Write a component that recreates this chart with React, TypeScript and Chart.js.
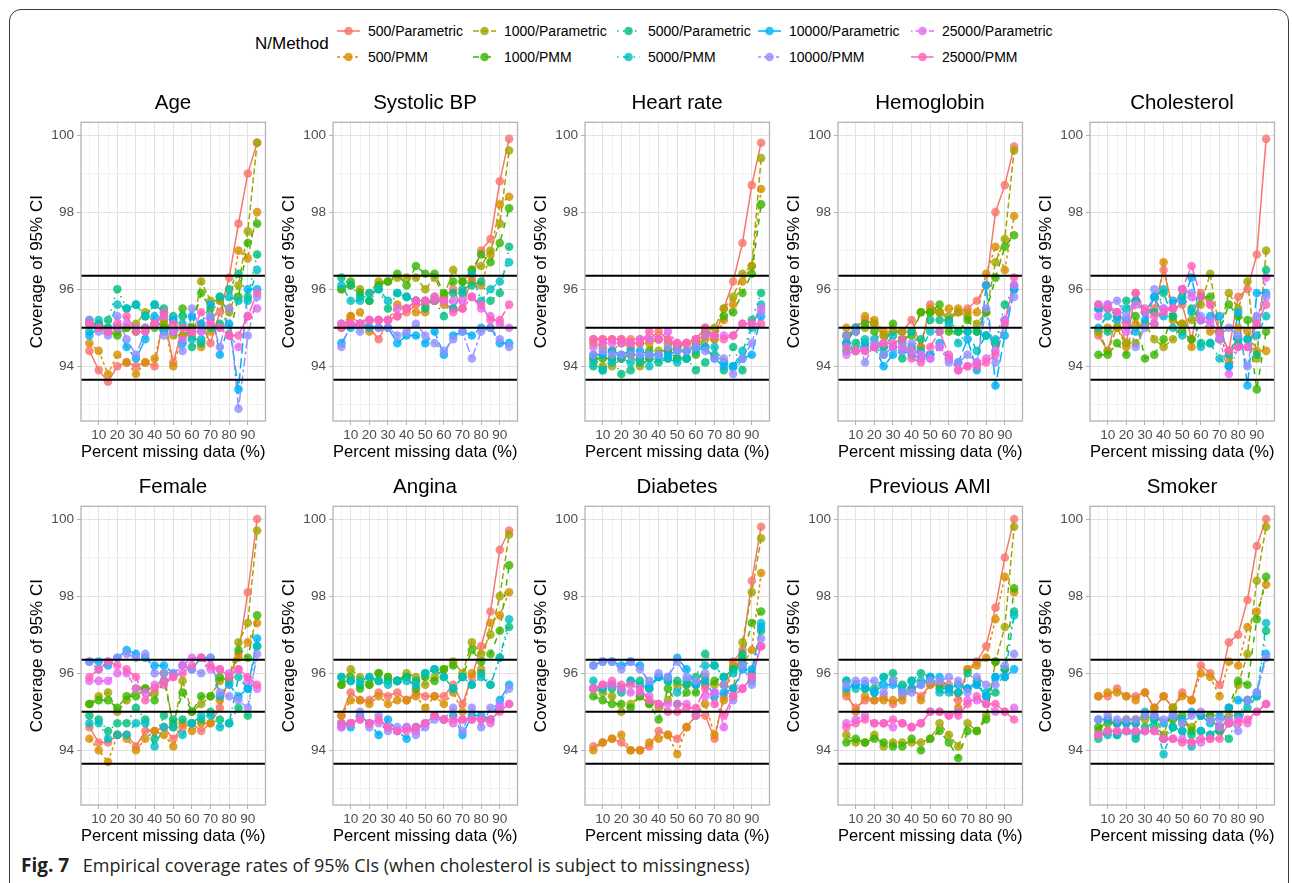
import React, { useEffect, useRef } from 'react';
import { Chart, registerables } from 'chart.js';

Chart.register(...registerables);

// ---------- data ----------
const PERCENT_MISSING = [5, 10, 15, 20, 25, 30, 35, 40, 45, 50, 55, 60, 65, 70, 75, 80, 85, 90, 95];

const SERIES_NAMES = [
  '500/Parametric', '500/PMM', '1000/Parametric', '1000/PMM', '5000/Parametric',
  '5000/PMM', '10000/Parametric', '10000/PMM', '25000/Parametric', '25000/PMM',
];

const X_MAJOR_TICKS = [10, 20, 30, 40, 50, 60, 70, 80, 90];
const X_GRID_TICKS = [5, 10, 15, 20, 25, 30, 35, 40, 45, 50, 55, 60, 65, 70, 75, 80, 85, 90, 95];
const Y_MAJOR_TICKS = [94, 96, 98, 100];
const Y_GRID_TICKS = [93, 94, 95, 96, 97, 98, 99, 100];
const REF_LINES = [93.65, 95, 96.35];

// each panel: rows in SERIES_NAMES order, values at PERCENT_MISSING
const AGE = [
  [94.4, 93.9, 93.6, 94.0, 94.1, 94.0, 94.1, 94.0, 95.3, 94.1, 95.0, 95.0, 95.1, 94.6, 95.4, 96.3, 97.7, 99.0, 99.8],
  [94.6, 94.4, 93.8, 94.3, 94.1, 93.8, 94.1, 94.2, 95.2, 94.0, 94.8, 94.8, 94.5, 94.9, 95.7, 95.5, 97.0, 96.8, 98.0],
  [95.1, 95.1, 95.0, 94.9, 95.0, 95.1, 95.4, 95.1, 95.1, 94.8, 94.8, 94.9, 96.2, 95.7, 95.7, 95.4, 96.1, 97.5, 99.8],
  [95.1, 95.0, 94.9, 94.8, 95.0, 94.9, 95.0, 95.0, 95.0, 94.9, 95.5, 95.0, 95.9, 95.5, 95.8, 94.8, 95.8, 97.2, 97.7],
  [95.2, 95.1, 95.2, 96.0, 95.5, 95.6, 95.3, 95.6, 95.5, 95.3, 95.3, 94.5, 94.6, 95.0, 95.1, 96.0, 96.4, 95.8, 96.9],
  [94.9, 95.2, 95.0, 95.6, 95.5, 95.6, 95.3, 95.6, 95.4, 95.2, 95.1, 94.7, 94.7, 95.3, 95.8, 95.8, 95.7, 95.7, 96.5],
  [94.8, 95.0, 94.9, 95.0, 94.5, 94.2, 94.7, 95.3, 94.9, 95.2, 94.6, 95.3, 95.1, 95.6, 94.3, 95.1, 93.4, 96.0, 96.0],
  [95.2, 94.9, 94.8, 95.3, 94.7, 94.3, 94.9, 95.1, 94.8, 94.9, 94.4, 95.5, 94.9, 95.3, 94.5, 95.5, 92.9, 94.8, 95.8],
  [95.1, 95.0, 94.9, 95.0, 95.1, 95.0, 95.0, 95.1, 95.3, 94.9, 94.7, 94.9, 94.9, 95.1, 95.0, 94.8, 94.5, 95.3, 95.5],
  [95.1, 95.0, 94.9, 95.1, 95.3, 94.9, 94.9, 95.1, 95.4, 95.1, 95.0, 94.9, 95.4, 95.1, 95.0, 94.8, 94.8, 95.3, 95.9],
];

const SYSTOLIC_BP = [
  [95.0, 95.3, 95.1, 95.0, 94.7, 95.2, 95.3, 95.4, 95.6, 95.6, 95.7, 95.8, 96.0, 95.5, 96.3, 97.0, 97.3, 98.8, 99.9],
  [95.1, 95.3, 95.4, 94.9, 95.2, 95.2, 95.6, 95.5, 95.4, 95.4, 95.8, 95.6, 95.5, 95.9, 96.2, 96.1, 96.9, 98.2, 98.4],
  [96.0, 96.1, 96.0, 95.9, 96.2, 96.2, 96.3, 96.3, 96.3, 96.0, 96.3, 95.8, 96.5, 96.2, 96.5, 96.6, 97.0, 97.7, 99.6],
  [96.0, 96.2, 95.9, 95.7, 96.1, 96.2, 96.4, 96.1, 96.6, 96.4, 96.4, 95.9, 96.2, 96.2, 96.5, 96.9, 96.7, 97.2, 98.1],
  [96.3, 96.1, 95.8, 95.7, 96.0, 95.5, 95.9, 95.8, 95.7, 95.5, 95.7, 95.3, 95.9, 96.0, 96.1, 96.2, 95.7, 95.9, 97.1],
  [96.1, 95.7, 95.7, 95.9, 96.0, 95.7, 95.9, 95.8, 95.7, 95.7, 95.7, 95.7, 95.5, 95.9, 96.4, 95.7, 96.0, 96.2, 96.7],
  [94.6, 95.0, 95.1, 95.0, 95.0, 95.0, 94.6, 94.8, 94.8, 94.6, 94.9, 94.3, 94.8, 94.9, 94.8, 95.0, 95.0, 94.6, 94.6],
  [94.5, 95.1, 94.9, 95.2, 95.0, 95.0, 94.8, 94.9, 95.1, 94.8, 94.6, 94.4, 94.7, 94.9, 94.2, 94.9, 95.0, 94.7, 94.5],
  [95.1, 95.1, 95.1, 95.2, 95.2, 95.2, 95.5, 95.5, 95.7, 95.7, 95.8, 95.7, 95.7, 95.7, 95.8, 95.5, 95.3, 95.1, 95.0],
  [95.0, 95.1, 95.1, 95.2, 95.2, 95.2, 95.3, 95.5, 95.7, 95.7, 95.7, 95.7, 95.4, 95.5, 95.8, 95.6, 95.2, 95.2, 95.6],
];

const HEART_RATE = [
  [94.7, 94.7, 94.7, 94.7, 94.7, 94.7, 94.7, 94.9, 94.7, 94.5, 94.6, 94.7, 95.0, 94.7, 95.5, 96.2, 97.2, 98.7, 99.8],
  [94.6, 94.5, 94.4, 94.6, 94.5, 94.6, 94.6, 94.7, 94.6, 94.5, 94.6, 94.6, 94.7, 94.7, 95.2, 95.6, 96.2, 96.6, 98.6],
  [94.2, 94.0, 94.0, 94.2, 94.3, 94.0, 94.2, 94.4, 94.4, 94.5, 94.4, 94.6, 94.9, 95.0, 95.5, 95.8, 96.4, 96.6, 99.4],
  [94.2, 94.2, 94.2, 94.2, 94.3, 94.2, 94.4, 94.7, 94.4, 94.2, 94.2, 94.3, 94.8, 94.8, 95.3, 95.4, 95.9, 96.4, 98.2],
  [94.0, 93.9, 94.2, 93.8, 93.9, 94.1, 94.2, 94.1, 94.2, 94.2, 94.2, 93.9, 94.1, 94.3, 93.9, 94.5, 93.9, 95.2, 95.9],
  [94.1, 93.9, 94.1, 94.2, 94.1, 94.2, 94.0, 94.2, 94.2, 94.1, 94.2, 94.4, 94.5, 94.5, 94.1, 94.0, 94.4, 95.0, 95.6],
  [94.3, 94.3, 94.4, 94.3, 94.4, 94.4, 94.3, 94.3, 94.3, 94.4, 94.4, 94.5, 94.5, 94.2, 94.0, 94.0, 94.2, 94.3, 95.3],
  [94.3, 94.4, 94.3, 94.3, 94.3, 94.3, 94.3, 94.3, 94.5, 94.4, 94.4, 94.5, 94.4, 94.2, 94.2, 93.8, 94.2, 94.6, 95.4],
  [94.5, 94.6, 94.6, 94.6, 94.6, 94.7, 94.7, 94.7, 94.9, 94.6, 94.6, 94.7, 94.8, 94.8, 94.8, 94.8, 95.1, 95.1, 95.5],
  [94.7, 94.7, 94.7, 94.7, 94.6, 94.6, 94.9, 94.7, 94.7, 94.6, 94.6, 94.7, 95.0, 94.8, 94.7, 94.8, 95.1, 95.1, 95.1],
];

const HEMOGLOBIN = [
  [94.6, 95.0, 95.2, 95.1, 94.8, 94.9, 94.9, 95.2, 94.5, 95.6, 95.4, 95.2, 95.4, 95.5, 95.7, 96.1, 98.0, 98.7, 99.7],
  [95.0, 95.0, 95.3, 95.2, 94.9, 94.9, 94.7, 94.9, 94.5, 95.5, 95.4, 95.5, 95.5, 95.4, 95.4, 96.4, 97.1, 96.5, 97.9],
  [94.8, 95.0, 95.0, 95.1, 94.8, 94.9, 94.9, 94.9, 95.4, 95.4, 95.4, 95.3, 95.4, 95.3, 95.1, 95.4, 96.7, 97.3, 99.6],
  [94.8, 94.9, 95.1, 94.9, 94.5, 95.1, 94.7, 94.8, 95.4, 95.4, 95.6, 94.9, 94.9, 95.2, 94.9, 95.4, 96.3, 97.1, 97.4],
  [94.4, 94.6, 94.6, 94.5, 94.3, 94.5, 94.2, 94.5, 94.7, 95.2, 95.2, 95.2, 94.9, 94.9, 94.9, 94.8, 94.6, 95.6, 96.0],
  [94.6, 94.4, 94.7, 94.7, 94.5, 94.8, 94.6, 94.9, 94.4, 94.9, 94.9, 95.1, 94.6, 94.9, 94.4, 94.8, 94.7, 95.2, 96.1],
  [94.6, 95.0, 94.5, 94.5, 94.0, 94.3, 94.4, 94.3, 94.2, 94.3, 94.6, 94.2, 94.1, 94.7, 93.9, 96.1, 93.5, 94.8, 96.0],
  [94.8, 94.9, 94.1, 94.6, 94.3, 94.5, 94.4, 94.6, 94.2, 94.2, 94.5, 94.1, 94.1, 94.3, 94.1, 95.5, 94.1, 95.2, 95.8],
  [94.3, 94.4, 94.4, 94.5, 94.6, 94.5, 94.5, 94.4, 94.3, 94.2, 94.5, 94.2, 93.9, 94.0, 94.1, 94.2, 94.4, 95.2, 96.1],
  [94.5, 94.4, 94.4, 94.5, 94.6, 94.6, 94.7, 94.2, 94.1, 94.5, 94.9, 94.3, 93.9, 94.0, 94.0, 94.1, 94.3, 95.1, 96.3],
];

const CHOLESTEROL = [
  [94.8, 94.4, 95.3, 94.6, 95.9, 95.4, 95.5, 96.5, 95.5, 95.6, 94.7, 95.9, 95.6, 94.9, 94.4, 95.8, 96.0, 96.9, 99.9],
  [94.9, 95.0, 95.0, 94.5, 95.1, 95.1, 95.1, 96.7, 95.2, 95.1, 94.5, 95.2, 94.9, 94.9, 94.1, 95.0, 94.9, 94.4, 94.4],
  [94.9, 94.4, 95.0, 94.6, 94.6, 95.1, 94.7, 94.5, 94.7, 95.1, 95.2, 95.6, 96.4, 94.9, 95.9, 95.5, 96.2, 94.2, 97.0],
  [94.3, 94.3, 94.6, 94.3, 95.3, 94.2, 94.3, 94.7, 95.3, 94.9, 94.7, 95.8, 95.8, 94.9, 95.6, 95.3, 95.2, 93.4, 94.9],
  [95.5, 94.9, 95.4, 95.7, 95.7, 95.4, 95.4, 95.9, 95.3, 95.8, 95.5, 94.6, 94.6, 94.7, 94.3, 94.7, 94.7, 94.3, 96.5],
  [95.0, 95.3, 95.2, 95.5, 95.7, 95.4, 95.8, 96.0, 95.0, 94.8, 95.4, 94.5, 94.6, 94.2, 94.0, 94.6, 94.7, 94.8, 95.3],
  [95.5, 95.5, 95.3, 95.2, 94.9, 95.2, 95.8, 95.3, 95.7, 95.7, 96.3, 95.2, 95.3, 95.3, 94.0, 95.4, 93.5, 95.9, 95.9],
  [95.6, 95.6, 95.7, 95.3, 94.5, 95.0, 96.0, 95.5, 95.5, 96.0, 95.9, 95.3, 95.2, 94.8, 95.0, 94.8, 94.0, 95.3, 95.8],
  [95.3, 95.6, 95.4, 94.9, 95.6, 95.4, 95.1, 95.5, 95.5, 96.0, 95.8, 95.2, 95.1, 94.7, 93.8, 94.5, 94.5, 95.1, 96.3],
  [95.6, 95.5, 95.4, 95.1, 95.9, 95.5, 95.3, 95.4, 95.5, 96.0, 96.6, 95.8, 95.6, 94.9, 94.4, 94.5, 94.5, 95.1, 95.6],
];

const FEMALE = [
  [94.6, 94.2, 94.2, 94.4, 94.4, 94.1, 94.5, 94.5, 94.6, 94.3, 94.6, 94.7, 94.5, 94.7, 95.1, 95.9, 96.5, 98.1, 100.0],
  [94.3, 94.0, 93.7, 94.4, 94.3, 94.0, 94.3, 94.5, 94.4, 94.1, 94.7, 94.5, 94.7, 94.7, 95.3, 95.9, 96.4, 96.8, 97.3],
  [95.2, 95.4, 95.5, 95.0, 95.3, 95.6, 95.6, 95.5, 96.0, 94.6, 95.8, 95.0, 95.2, 95.4, 95.8, 95.9, 96.8, 97.3, 99.7],
  [95.2, 95.3, 95.3, 95.1, 95.4, 95.4, 95.6, 95.3, 95.8, 94.7, 95.5, 95.0, 95.4, 95.4, 95.9, 95.8, 96.6, 96.4, 97.5],
  [94.9, 94.8, 94.5, 94.7, 94.7, 95.1, 94.8, 94.3, 94.9, 94.8, 94.8, 94.7, 94.8, 95.0, 94.8, 94.7, 95.1, 94.9, 96.7],
  [94.7, 94.7, 94.3, 94.4, 94.4, 94.7, 94.7, 94.1, 94.6, 94.6, 94.4, 94.7, 94.9, 94.9, 94.6, 94.7, 95.9, 95.6, 96.7],
  [96.3, 96.3, 96.2, 96.4, 96.6, 96.5, 96.4, 96.2, 96.2, 96.0, 96.2, 96.1, 96.4, 96.4, 95.4, 95.7, 95.4, 95.6, 96.9],
  [96.3, 96.1, 96.3, 96.4, 96.5, 96.4, 96.5, 96.0, 96.0, 96.0, 96.2, 96.1, 96.0, 96.4, 95.5, 95.4, 95.3, 95.1, 96.5],
  [95.8, 95.8, 95.8, 96.0, 96.0, 95.6, 95.5, 95.7, 95.8, 95.9, 96.2, 96.4, 96.4, 96.1, 96.1, 96.0, 96.1, 95.8, 95.6],
  [95.9, 96.1, 96.3, 96.2, 96.1, 95.9, 95.3, 95.6, 95.7, 95.9, 96.0, 96.2, 96.4, 96.2, 96.1, 95.9, 96.1, 95.9, 95.7],
];

const ANGINA = [
  [94.9, 95.5, 95.3, 95.3, 95.5, 95.4, 95.5, 95.3, 95.5, 95.4, 95.4, 95.4, 95.7, 95.2, 95.9, 96.7, 97.6, 99.2, 99.7],
  [94.9, 95.3, 95.3, 95.2, 95.4, 95.2, 95.3, 95.3, 95.4, 95.1, 95.4, 95.2, 95.5, 95.0, 96.0, 96.1, 97.3, 97.5, 98.1],
  [95.7, 96.1, 95.9, 95.7, 96.0, 95.9, 95.8, 96.0, 95.9, 95.7, 95.9, 96.1, 96.3, 96.0, 96.8, 96.5, 97.0, 98.0, 99.6],
  [95.7, 95.9, 95.6, 95.7, 96.0, 95.9, 95.8, 95.9, 95.6, 95.9, 95.8, 96.1, 96.2, 95.9, 96.6, 96.3, 96.5, 97.1, 98.8],
  [95.9, 95.8, 95.7, 95.9, 95.8, 95.8, 95.8, 95.9, 95.8, 96.0, 96.1, 95.9, 95.6, 95.9, 95.7, 96.0, 95.7, 96.4, 97.2],
  [95.9, 95.8, 95.8, 95.9, 95.8, 95.7, 95.8, 95.8, 95.7, 96.0, 96.1, 95.9, 95.6, 95.9, 95.7, 95.9, 95.7, 96.4, 97.4],
  [94.7, 94.6, 94.9, 94.7, 94.4, 94.8, 94.5, 94.3, 94.6, 94.7, 94.9, 94.8, 94.9, 94.4, 94.9, 94.9, 94.8, 95.3, 95.7],
  [94.6, 94.7, 95.0, 94.6, 94.9, 94.5, 94.6, 94.6, 94.4, 94.6, 94.8, 94.8, 95.1, 94.5, 95.1, 94.6, 95.1, 95.2, 95.6],
  [94.6, 94.7, 94.8, 94.7, 94.7, 94.6, 94.5, 94.6, 94.5, 94.7, 94.9, 94.8, 94.7, 94.8, 94.8, 94.8, 94.7, 95.1, 95.2],
  [94.7, 94.7, 94.8, 94.7, 94.8, 94.6, 94.5, 94.5, 94.6, 94.7, 94.9, 94.8, 94.8, 94.8, 94.8, 94.8, 94.8, 95.0, 95.2],
];

const DIABETES = [
  [94.1, 94.2, 94.3, 94.2, 94.0, 94.0, 94.1, 94.5, 94.4, 94.3, 94.6, 94.9, 94.9, 94.3, 95.4, 96.3, 96.6, 98.4, 99.8],
  [94.0, 94.2, 94.3, 94.4, 94.0, 94.0, 94.2, 94.3, 94.4, 93.9, 94.6, 94.9, 95.2, 94.4, 95.3, 96.2, 96.2, 96.6, 98.6],
  [95.6, 95.5, 95.4, 95.0, 95.2, 95.4, 95.2, 95.1, 95.3, 95.7, 95.7, 95.7, 95.9, 95.7, 95.7, 95.6, 96.8, 98.1, 99.5],
  [95.4, 95.3, 95.2, 95.2, 95.1, 95.4, 95.2, 94.8, 95.6, 95.2, 95.5, 95.5, 95.7, 95.8, 95.9, 96.1, 96.4, 97.3, 97.6],
  [95.6, 95.6, 95.6, 95.5, 95.8, 95.8, 95.6, 95.9, 95.8, 95.8, 95.7, 95.9, 96.5, 96.2, 95.9, 96.1, 96.5, 96.0, 97.1],
  [95.8, 95.6, 95.7, 95.6, 95.8, 95.7, 95.6, 95.9, 95.8, 95.5, 95.8, 95.7, 96.2, 96.2, 95.9, 96.0, 96.3, 95.8, 97.3],
  [96.2, 96.3, 96.3, 96.2, 96.3, 96.2, 95.7, 95.9, 95.9, 96.4, 96.1, 95.7, 95.8, 95.4, 95.5, 95.6, 96.1, 96.1, 97.2],
  [96.2, 96.3, 96.3, 96.1, 96.3, 96.1, 95.8, 96.0, 95.9, 96.3, 95.9, 95.8, 96.0, 95.5, 95.7, 95.3, 96.2, 95.7, 96.9],
  [95.6, 95.7, 95.7, 95.6, 95.5, 95.5, 95.4, 95.2, 95.2, 95.2, 95.2, 94.9, 95.4, 95.5, 94.6, 95.4, 95.6, 95.9, 96.7],
  [95.6, 95.7, 95.8, 95.7, 95.7, 95.6, 95.3, 95.2, 95.0, 95.0, 95.1, 95.1, 95.6, 95.2, 94.9, 95.4, 95.6, 95.9, 96.7],
];

const PREVIOUS_AMI = [
  [95.4, 95.1, 95.3, 95.3, 95.4, 95.2, 95.4, 95.6, 95.4, 95.7, 95.7, 95.7, 95.3, 96.1, 96.3, 96.7, 97.7, 99.0, 100.0],
  [95.5, 95.0, 95.4, 95.3, 95.3, 95.3, 95.3, 95.6, 95.3, 95.7, 95.7, 95.6, 95.1, 96.1, 96.2, 96.4, 97.4, 98.5, 98.1],
  [94.4, 94.2, 94.2, 94.4, 94.1, 94.2, 94.2, 94.2, 94.2, 94.3, 94.7, 94.4, 94.1, 94.7, 94.5, 94.9, 96.3, 97.2, 99.8],
  [94.2, 94.3, 94.2, 94.3, 94.2, 94.1, 94.1, 94.3, 94.0, 94.3, 94.5, 94.2, 93.8, 94.5, 94.5, 94.8, 96.3, 96.1, 98.2],
  [95.8, 95.7, 95.6, 95.6, 95.9, 96.0, 95.7, 95.8, 96.0, 95.9, 95.6, 95.6, 95.5, 96.0, 95.8, 95.4, 95.5, 96.1, 97.6],
  [95.8, 95.6, 95.6, 95.5, 95.9, 95.8, 95.6, 95.8, 95.8, 95.9, 95.5, 95.5, 95.5, 95.6, 95.7, 95.5, 95.9, 95.9, 97.5],
  [95.6, 95.7, 95.7, 95.5, 95.7, 95.7, 95.5, 95.6, 95.7, 95.9, 95.9, 95.6, 95.7, 95.6, 95.7, 95.4, 95.9, 95.9, 96.1],
  [95.7, 95.8, 95.8, 95.8, 95.5, 95.8, 95.5, 95.5, 95.7, 95.8, 95.8, 95.9, 95.8, 95.5, 95.9, 95.7, 95.7, 96.2, 96.5],
  [94.7, 94.8, 94.9, 94.7, 94.7, 94.6, 94.7, 94.6, 94.7, 95.0, 95.0, 94.9, 95.0, 95.3, 95.3, 95.2, 95.0, 95.0, 95.1],
  [94.6, 94.7, 94.8, 94.7, 94.7, 94.8, 94.7, 94.6, 94.7, 95.0, 95.0, 94.9, 94.9, 95.2, 95.4, 95.2, 95.2, 95.0, 94.8],
];

const SMOKER = [
  [95.4, 95.4, 95.6, 95.4, 95.4, 95.5, 95.1, 95.4, 95.1, 95.5, 95.3, 96.2, 96.0, 95.7, 96.8, 97.0, 97.9, 99.3, 100.0],
  [95.4, 95.5, 95.5, 95.4, 95.3, 95.5, 95.1, 95.4, 95.1, 95.4, 95.3, 96.0, 95.9, 95.4, 96.3, 96.2, 97.2, 97.6, 98.3],
  [94.5, 94.8, 94.7, 94.8, 94.8, 94.8, 94.9, 94.4, 95.1, 94.7, 94.6, 94.9, 94.9, 94.5, 94.9, 95.7, 96.5, 98.4, 99.8],
  [94.6, 94.7, 94.7, 94.7, 94.7, 94.9, 94.8, 94.3, 94.8, 94.9, 94.5, 94.9, 94.9, 94.6, 95.1, 95.8, 95.7, 97.4, 98.5],
  [94.3, 94.5, 94.4, 94.5, 94.3, 94.6, 94.6, 94.3, 94.6, 94.5, 94.4, 94.5, 94.4, 94.5, 94.3, 94.9, 95.3, 95.4, 97.1],
  [94.4, 94.4, 94.4, 94.5, 94.4, 94.5, 94.8, 93.9, 94.6, 94.5, 94.1, 94.5, 94.4, 94.6, 94.7, 94.9, 95.1, 95.4, 97.3],
  [94.8, 94.8, 94.7, 94.7, 94.7, 95.0, 94.9, 94.7, 94.9, 94.8, 95.0, 94.9, 94.7, 94.9, 95.1, 95.3, 95.3, 95.5, 96.5],
  [94.8, 94.9, 94.8, 94.8, 94.8, 94.9, 94.9, 94.8, 94.9, 94.7, 94.9, 95.0, 94.8, 94.8, 94.8, 94.5, 95.3, 95.5, 96.4],
  [94.4, 94.5, 94.5, 94.5, 94.5, 94.5, 94.5, 94.3, 94.3, 94.3, 94.2, 94.2, 94.3, 94.6, 94.7, 94.8, 94.7, 95.0, 95.2],
  [94.4, 94.5, 94.5, 94.5, 94.5, 94.5, 94.5, 94.3, 94.3, 94.2, 94.2, 94.3, 94.3, 94.3, 94.7, 94.7, 94.8, 95.0, 95.2],
];

const PANEL_TITLES = ['Age', 'Systolic BP', 'Heart rate', 'Hemoglobin', 'Cholesterol', 'Female', 'Angina', 'Diabetes', 'Previous AMI', 'Smoker'];
const PANEL_DATA = [AGE, SYSTOLIC_BP, HEART_RATE, HEMOGLOBIN, CHOLESTEROL, FEMALE, ANGINA, DIABETES, PREVIOUS_AMI, SMOKER];

// ---------- styles ----------
const SERIES_COLORS = ['#F8766D', '#D89000', '#A3A500', '#39B600', '#00BF7D', '#00BFC4', '#00B0F6', '#9590FF', '#E76BF3', '#FF62BC'];
const SERIES_DASHES = [
  [], [3, 3], [6, 3], [6, 6], [1.5, 4.5], [1.5, 4.5, 6, 4.5], [10.5, 4.5], [3, 3, 9, 3], [1.5, 3, 3, 3, 4.5, 3, 6, 3], [22.5, 3, 12, 3],
];
const FONT = '"Liberation Sans", Arial, Helvetica, sans-serif';
const POINT_ALPHA = 'd0';

const COL_LEFTS = [22, 274, 526, 779, 1031];
const ROW_TOPS = [88, 472];
const CANVAS_W = 302;
const CANVAS_H = 380;

const LEGEND_TEXT_X = [368, 504, 648, 789, 942];
const LEGEND_ROW_Y = [31, 57];

Chart.defaults.font.family = FONT;

const panelDecor = {
  id: 'panelDecor',
  afterDatasetsDraw(chart: any) {
    const { ctx, chartArea: a, scales } = chart;
    const y = scales.y;
    ctx.save();
    ctx.strokeStyle = '#000000';
    ctx.lineWidth = 2;
    REF_LINES.forEach((v) => {
      const py = y.getPixelForValue(v);
      ctx.beginPath();
      ctx.moveTo(a.left, py);
      ctx.lineTo(a.right, py);
      ctx.stroke();
    });
    ctx.strokeStyle = '#B3B3B3';
    ctx.lineWidth = 1.3;
    ctx.strokeRect(a.left, a.top, a.right - a.left, a.bottom - a.top);
    ctx.restore();
  },
};

function Panel({ title, data, left, top }: { title: string; data: number[][]; left: number; top: number }) {
  const ref = useRef<HTMLCanvasElement>(null);
  useEffect(() => {
    const lineSets = data.map((vals, i) => ({
      type: 'line',
      label: SERIES_NAMES[i],
      data: PERCENT_MISSING.map((x, j) => ({ x, y: vals[j] })),
      borderColor: SERIES_COLORS[i],
      borderWidth: 1.5,
      borderDash: SERIES_DASHES[i],
      pointRadius: 0,
      fill: false,
      tension: 0,
      yAxisID: 'y',
      order: 100 - i,
    }));
    const pointSets = data.map((vals, i) => ({
      type: 'line',
      label: SERIES_NAMES[i] + ' points',
      data: PERCENT_MISSING.map((x, j) => ({ x, y: vals[j] })),
      showLine: false,
      pointRadius: 4.3,
      pointBackgroundColor: SERIES_COLORS[i] + POINT_ALPHA,
      pointBorderWidth: 0,
      pointBorderColor: 'rgba(0,0,0,0)',
      yAxisID: 'y',
      order: 50 - i,
    }));
    const chart = new Chart(ref.current as HTMLCanvasElement, {
      type: 'line',
      data: { datasets: [...lineSets, ...pointSets] as any },
      plugins: [panelDecor],
      options: {
        responsive: false,
        animation: false,
        events: [],
        devicePixelRatio: 1,
        layout: { padding: 0 },
        plugins: {
          legend: { display: false },
          tooltip: { enabled: false },
          title: {
            display: true,
            text: title,
            color: '#000000',
            font: { size: 20.5, weight: 'normal', family: FONT },
            padding: { top: 3, bottom: 6.7 },
          },
        },
        scales: {
          x: {
            type: 'linear',
            min: 0.5,
            max: 99.5,
            afterBuildTicks: (s: any) => {
              s.ticks = X_GRID_TICKS.map((v) => ({ value: v }));
            },
            afterFit: (s: any) => {
              s.height = 47;
            },
            ticks: {
              autoSkip: false,
              maxRotation: 0,
              minRotation: 0,
              padding: 2,
              color: '#4D4D4D',
              font: { size: 13.6, family: FONT },
              callback: (v: any) => (X_MAJOR_TICKS.includes(Number(v)) ? String(v) : ''),
            },
            grid: {
              color: (c: any) => (X_MAJOR_TICKS.includes(c.tick?.value) ? '#E2E2E2' : '#F0F0F0'),
              lineWidth: (c: any) => (X_MAJOR_TICKS.includes(c.tick?.value) ? 1 : 0.8),
              tickColor: (c: any) => (X_MAJOR_TICKS.includes(c.tick?.value) ? '#B3B3B3' : 'rgba(0,0,0,0)'),
              tickLength: 4,
              drawTicks: true,
            },
            border: { display: false },
            title: {
              display: true,
              text: 'Percent missing data (%)',
              color: '#000000',
              font: { size: 17, family: FONT },
              padding: { top: 0, bottom: 5 },
            },
          },
          y: {
            type: 'linear',
            position: 'left',
            min: 92.58,
            max: 100.33,
            afterBuildTicks: (s: any) => {
              s.ticks = Y_GRID_TICKS.map((v) => ({ value: v }));
            },
            afterFit: (s: any) => {
              s.width = 59;
            },
            ticks: {
              autoSkip: false,
              padding: 3,
              color: '#4D4D4D',
              font: { size: 13.6, family: FONT },
              callback: (v: any) => (Y_MAJOR_TICKS.includes(Number(v)) ? String(v) : ''),
            },
            grid: {
              color: (c: any) => (Y_MAJOR_TICKS.includes(c.tick?.value) ? '#E2E2E2' : '#F0F0F0'),
              lineWidth: (c: any) => (Y_MAJOR_TICKS.includes(c.tick?.value) ? 1 : 0.8),
              tickColor: (c: any) => (Y_MAJOR_TICKS.includes(c.tick?.value) ? '#B3B3B3' : 'rgba(0,0,0,0)'),
              tickLength: 4,
              drawTicks: true,
            },
            border: { display: false },
            title: {
              display: true,
              text: 'Coverage of 95% CI',
              color: '#000000',
              font: { size: 17, family: FONT },
              padding: { top: 5, bottom: 0 },
            },
          },
          // invisible spacer axis so the panel title is centred over the plot
          spacer: {
            type: 'linear',
            position: 'right',
            display: true,
            min: 0,
            max: 1,
            afterFit: (s: any) => {
              s.width = 58.5;
            },
            ticks: { display: false },
            grid: { display: false, drawTicks: false },
            border: { display: false },
            title: { display: false },
          },
        },
      } as any,
    });
    return () => chart.destroy();
  }, [title, data]);
  return (
    <canvas
      ref={ref}
      width={CANVAS_W}
      height={CANVAS_H}
      style={{ position: 'absolute', left, top, width: CANVAS_W, height: CANVAS_H, display: 'block' }}
    />
  );
}

function LegendKey({ color, dash }: { color: string; dash: number[] }) {
  return (
    <svg width={23} height={12} style={{ display: 'block' }}>
      <line x1={0} y1={6} x2={23} y2={6} stroke={color} strokeWidth={1.5} strokeDasharray={dash.length ? dash.join(' ') : undefined} />
      <circle cx={11.5} cy={6} r={4.3} fill={color} fillOpacity={0.82} />
    </svg>
  );
}

export default function App() {
  return (
    <div style={{ position: 'absolute', left: 0, top: 0, width: 1292, height: 883, background: '#ffffff', overflow: 'hidden', fontFamily: FONT }}>
      <div
        style={{
          position: 'absolute',
          left: 9,
          top: 9,
          width: 1280,
          height: 1000,
          border: '1.5px solid #3a3a3a',
          borderRadius: 12,
          boxSizing: 'border-box',
        }}
      />
      <div style={{ position: 'absolute', left: 255, top: 34, fontSize: 17, lineHeight: '20px', color: '#000', whiteSpace: 'nowrap' }}>N/Method</div>
      {SERIES_NAMES.map((name, i) => {
        const col = Math.floor(i / 2);
        const row = i % 2;
        const tx = LEGEND_TEXT_X[col];
        const cy = LEGEND_ROW_Y[row];
        return (
          <React.Fragment key={name}>
            <div style={{ position: 'absolute', left: tx - 31, top: cy - 6 }}>
              <LegendKey color={SERIES_COLORS[i]} dash={SERIES_DASHES[i]} />
            </div>
            <div style={{ position: 'absolute', left: tx, top: cy - 9, fontSize: 14, lineHeight: '18px', color: '#000', whiteSpace: 'nowrap' }}>{name}</div>
          </React.Fragment>
        );
      })}
      {PANEL_TITLES.map((t, i) => (
        <Panel key={t} title={t} data={PANEL_DATA[i]} left={COL_LEFTS[i % 5]} top={ROW_TOPS[Math.floor(i / 5)]} />
      ))}
      <div
        style={{
          position: 'absolute',
          left: 21,
          top: 852,
          fontFamily: '"Open Sans", "Noto Sans", sans-serif',
          fontSize: 18,
          lineHeight: '26px',
          color: '#231F20',
          whiteSpace: 'nowrap',
        }}
      >
        <span style={{ fontWeight: 700, fontSize: 19 }}>Fig. 7</span>
        <span>{'\u2002 Empirical coverage rates of 95% CIs (when cholesterol is subject to missingness)'}</span>
      </div>
    </div>
  );
}
